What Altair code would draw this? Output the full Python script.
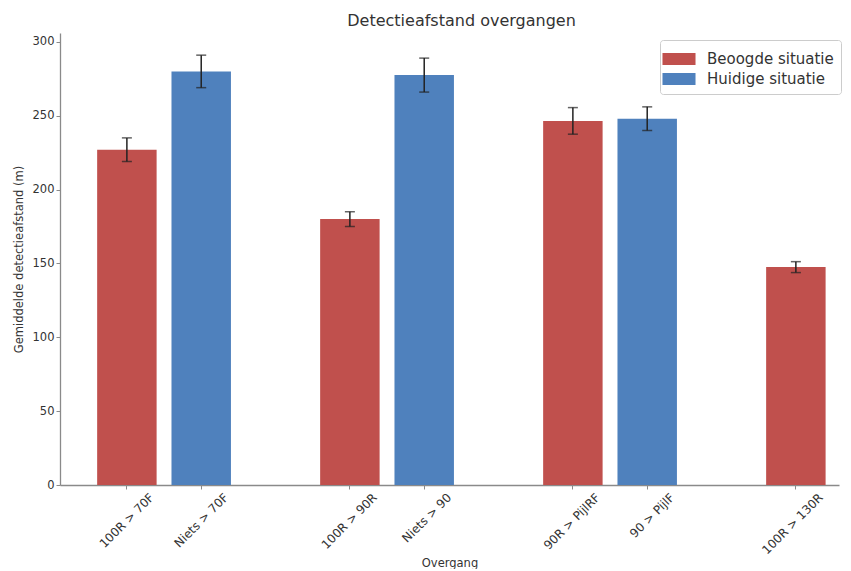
import altair as alt
import pandas as pd

# ---- data ----
categories = ["100R > 70F", "Niets > 70F", "100R > 90R", "Niets > 90",
              "90R > PijlRF", "90 > PijlF", "100R > 130R"]
series = ["Beoogde situatie", "Huidige situatie", "Beoogde situatie", "Huidige situatie",
          "Beoogde situatie", "Huidige situatie", "Beoogde situatie"]
values = [227.0, 280.0, 180.0, 277.5, 246.5, 248.0, 147.5]
errors = [8.0, 11.0, 5.0, 11.5, 9.0, 8.0, 3.7]
# slot order on the x axis (blank slots separate the groups)
x_slots = ["100R > 70F", "Niets > 70F", " ", "100R > 90R", "Niets > 90", "  ",
           "90R > PijlRF", "90 > PijlF", "   ", "100R > 130R"]
legend_order = ["Beoogde situatie", "Huidige situatie"]
colors = ["#c0504d", "#4f81bd"]
y_ticks = [0, 50, 100, 150, 200, 250, 300]

df = pd.DataFrame({"cat": categories, "serie": series, "val": values, "err": errors})
df["lo"] = df["val"] - df["err"]
df["hi"] = df["val"] + df["err"]

FONT = "DejaVu Sans"
TXT = "#333333"

x_enc = alt.X(
    "cat:N",
    scale=alt.Scale(domain=x_slots, paddingInner=0.2, paddingOuter=0.34, align=0.735),
    axis=alt.Axis(
        values=categories, title="Overgang", labelAngle=-45, labelAlign="right",
        labelBaseline="middle", labelOffset=25, labelPadding=6, labelFontSize=12,
        titleY=78, titleBaseline="middle",
    ),
)
y_scale = alt.Scale(domain=[0, 306], nice=False, zero=True)

bars = alt.Chart(df).mark_bar().encode(
    x=x_enc,
    y=alt.Y("val:Q", scale=y_scale,
            axis=alt.Axis(values=y_ticks, title="Gemiddelde detectieafstand (m)",
                          titlePadding=8, grid=False, labelFontSize=11.5)),
    color=alt.Color(
        "serie:N",
        scale=alt.Scale(domain=legend_order, range=colors),
        legend=alt.Legend(
            title=None, orient="none", legendX=600, legendY=7,
            fillColor="white", strokeColor="#cccccc", cornerRadius=3,
            padding=7, rowPadding=0, labelFontSize=15, labelFont=FONT,
            labelColor=TXT, labelOffset=16,
            symbolType="M-1.4,-0.5H1.4V0.5H-1.4Z", symbolSize=557,
            symbolStrokeWidth=0, symbolOpacity=1,
        ),
    ),
)

rules = alt.Chart(df).mark_rule(color="#222222", strokeWidth=1.5).encode(
    x=alt.X("cat:N", scale=alt.Scale(domain=x_slots)),
    y=alt.Y("lo:Q", scale=y_scale),
    y2="hi:Q",
)
caps_lo = alt.Chart(df).mark_tick(color="#222222", size=10, thickness=1.5).encode(
    x=alt.X("cat:N", scale=alt.Scale(domain=x_slots)),
    y=alt.Y("lo:Q", scale=y_scale),
)
caps_hi = alt.Chart(df).mark_tick(color="#222222", size=10, thickness=1.5).encode(
    x=alt.X("cat:N", scale=alt.Scale(domain=x_slots)),
    y=alt.Y("hi:Q", scale=y_scale),
)

chart = (
    alt.layer(bars, rules, caps_lo, caps_hi)
    .properties(
        width=779, height=452,
        title=alt.TitleParams("Detectieafstand overgangen", fontSize=16, fontWeight="normal",
                              font=FONT, color=TXT, anchor="middle", dx=12, offset=4),
        padding={"left": 5, "top": 5, "right": 0, "bottom": 0},
    )
    .configure_view(stroke=None)
    .configure_axis(
        labelFont=FONT, titleFont=FONT, titleFontSize=11.5,
        titleFontWeight="normal", labelColor=TXT, titleColor=TXT,
        domainColor="#8a8a8a", domainWidth=1.3, tickColor="#8a8a8a", tickSize=4,
        grid=False,
    )
)

chart.save("out.html", embed_options={"renderer": "svg", "actions": False})
